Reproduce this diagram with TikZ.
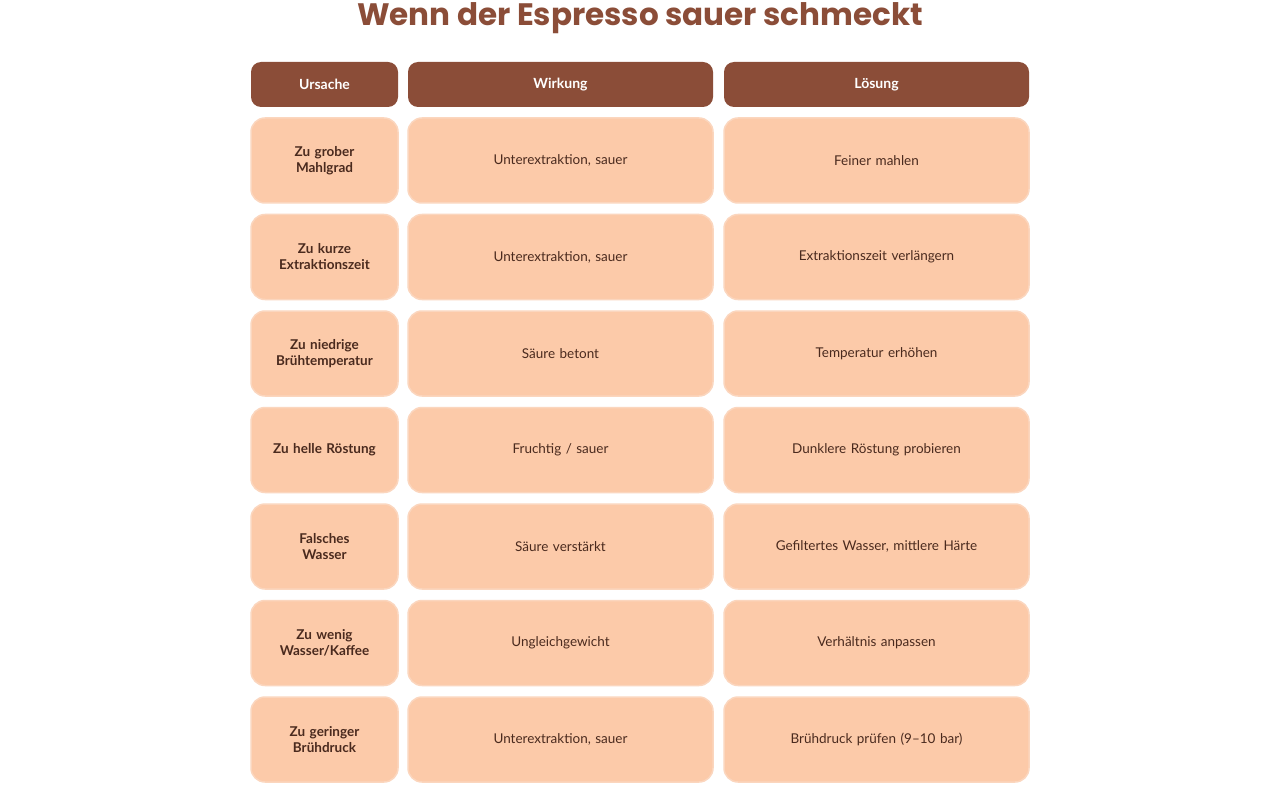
\documentclass[tikz,border=0pt]{standalone}
\usepackage{fontspec}
\setmainfont{Lato}
\newfontfamily\titlefont{Poppins}
\usetikzlibrary{positioning}
\definecolor{brownhead}{HTML}{8B4D38}
\definecolor{peach}{HTML}{FCCAA9}
\definecolor{peachline}{HTML}{FBD6BE}
\definecolor{darktext}{HTML}{4A2A1E}
\tikzset{
head/.style = {draw=none, fill=brownhead, rounded corners=10pt, minimum height=45pt, text=white, font=\fontsize{14}{16}\selectfont\bfseries, inner sep=0pt},
cell/.style = {draw=peachline, line width=1.5pt, fill=peach, rounded corners=14pt, minimum height=85pt, text=darktext, align=center, font=\fontsize{13.5}{16}\selectfont, inner sep=0pt},
cause/.style = {cell, minimum width=147pt, text width=130pt, font=\fontsize{13.5}{16}\selectfont\bfseries},
wide/.style = {minimum width=305pt, text width=290pt}
}
\begin{document}
\begin{tikzpicture}[x=1pt, y=-1pt]
  \useasboundingbox[fill=white] (0,0) rectangle (1280,805);
  \node[text=brownhead, font=\titlefont\fontsize{31}{34}\selectfont\bfseries] (title) at (640,18) {Wenn der Espresso sauer schmeckt};
  \node[head, minimum width=147pt] (hcause) at (324.5,84.5) {Ursache};
  \node[head, minimum width=305pt] (heffect) at (560.5,84.5) {Wirkung};
  \node[head, minimum width=305pt] (hfix) at (876.5,84.5) {Lösung};
  \foreach \i/\c/\e/\f in {
    0/{Zu grober\\Mahlgrad}/{Unterextraktion, sauer}/{Feiner mahlen},
    1/{Zu kurze\\Extraktionszeit}/{Unterextraktion, sauer}/{Extraktionszeit verlängern},
    2/{Zu niedrige\\Brühtemperatur}/{Säure betont}/{Temperatur erhöhen},
    3/{Zu helle Röstung}/{Fruchtig / sauer}/{Dunklere Röstung probieren},
    4/{Falsches\\Wasser}/{Säure verstärkt}/{Gefiltertes Wasser, mittlere Härte},
    5/{Zu wenig\\Wasser/Kaffee}/{Ungleichgewicht}/{Verhältnis anpassen},
    6/{Zu geringer\\Brühdruck}/{Unterextraktion, sauer}/{Brühdruck prüfen (9–10 bar)}}{
    \node[cause] (cause\i) at (324.5,160.5+96.5*\i) {\c};
    \node[cell, wide] (effect\i) at (560.5,160.5+96.5*\i) {\e};
    \node[cell, wide] (fix\i) at (876.5,160.5+96.5*\i) {\f};
  }
\end{tikzpicture}
\end{document}
